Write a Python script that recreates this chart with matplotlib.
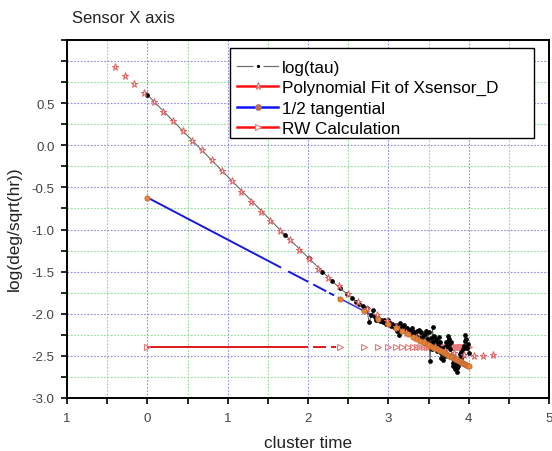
import numpy as np
import matplotlib
matplotlib.use("Agg")
import matplotlib.pyplot as plt
from matplotlib.lines import Line2D
from matplotlib.patches import Rectangle
from matplotlib.ticker import FixedLocator, FixedFormatter, MultipleLocator

plt.rcParams['font.family'] = ['Liberation Sans', 'DejaVu Sans']
plt.rcParams['lines.scale_dashes'] = False

# ---------------- data ----------------
title_text = "Sensor X axis"
x_label = "cluster time"
y_label = "log(deg/sqrt(hr))"
series_names = ["log(tau)", "Polynomial Fit of Xsensor_D", "1/2 tangential", "RW Calculation"]

x_ticks = [-1, 0, 1, 2, 3, 4, 5]
x_tick_labels = ["1", "0", "1", "2", "3", "4", "5"]
y_ticks = [-3.0, -2.5, -2.0, -1.5, -1.0, -0.5, 0.0, 0.5, 1.0]
y_tick_labels = ["-3.0", "-2.5", "-2.0", "-1.5", "-1.0", "-0.5", "0.0", "0.5", ""]

# log(tau) measured points
tau_x = [0.00, 1.71, 2.01, 2.18, 2.30, 2.40, 2.48, 2.55, 2.60, 2.64, 2.68, 2.71, 2.73,
         2.76, 2.79, 2.81, 2.83, 2.85, 2.87, 2.89, 2.91, 2.93, 2.95, 2.97, 2.99, 3.01,
         3.03, 3.05, 3.07, 3.09, 3.11, 3.13, 3.15, 3.17, 3.19, 3.21, 3.23, 3.25, 3.27,
         3.29, 3.30, 3.32, 3.34, 3.36, 3.38, 3.40, 3.41, 3.43, 3.44, 3.46, 3.47, 3.48,
         3.50, 3.51, 3.52, 3.53, 3.54, 3.55, 3.56, 3.57, 3.58, 3.59, 3.60, 3.61, 3.62,
         3.63, 3.64, 3.65, 3.66, 3.67, 3.68, 3.69, 3.70, 3.71, 3.72, 3.73, 3.74, 3.75,
         3.76, 3.77, 3.78, 3.79, 3.80, 3.81, 3.82, 3.83, 3.84, 3.85, 3.86, 3.87, 3.88,
         3.89, 3.90, 3.91, 3.92, 3.93, 3.94, 3.95, 3.96, 3.97, 3.98, 3.99, 4.00]
tau_y = [0.60, -1.06, -1.34, -1.50, -1.61, -1.70, -1.76, -1.81, -1.86, -1.88, -1.91, -1.95, -1.93,
         -2.10, -2.02, -1.96, -2.04, -2.07, -2.05, -2.09, -2.07, -2.10, -2.08, -2.12, -2.07, -2.10,
         -2.14, -2.12, -2.16, -2.13, -2.20, -2.25, -2.11, -2.16, -2.13, -2.20, -2.17, -2.23, -2.19,
         -2.24, -2.17, -2.22, -2.27, -2.21, -2.19, -2.29, -2.22, -2.26, -2.33, -2.24, -2.20, -2.30,
         -2.22, -2.35, -2.56, -2.29, -2.42, -2.16, -2.33, -2.26, -2.39, -2.30, -2.44, -2.34, -2.38,
         -2.28, -2.34, -2.47, -2.52, -2.41, -2.55, -2.45, -2.50, -2.40, -2.33, -2.38, -2.27, -2.36,
         -2.30, -2.42, -2.34, -2.50, -2.58, -2.62, -2.55, -2.66, -2.60, -2.69, -2.64, -2.62, -2.55,
         -2.48, -2.52, -2.45, -2.50, -2.42, -2.38, -2.32, -2.25, -2.30, -2.41, -2.36, -2.47]

# polynomial fit (stars)
fit_x = [-0.40, -0.28, -0.16, -0.04, 0.08, 0.20, 0.32, 0.44, 0.56, 0.68, 0.81, 0.93, 1.05,
         1.17, 1.29, 1.41, 1.53, 1.65, 1.77, 1.89, 2.01, 2.13, 2.25, 2.38, 2.50, 2.62,
         2.74, 2.86, 2.98, 3.10, 3.22, 3.34, 3.46, 3.58, 3.70, 3.82, 3.94, 4.06, 4.18, 4.30]
fit_y = [0.925, 0.825, 0.726, 0.619, 0.515, 0.401, 0.289, 0.175, 0.05, -0.06, -0.18, -0.30, -0.42,
         -0.55, -0.67, -0.79, -0.90, -1.02, -1.13, -1.24, -1.35, -1.47, -1.575, -1.675, -1.77, -1.865,
         -1.94, -2.02, -2.09, -2.16, -2.23, -2.29, -2.35, -2.40, -2.44, -2.47, -2.49, -2.50, -2.50, -2.49]

# cluster times (s) for tangential / RW series
cluster_tau = [1, 250, 500, 750, 1000, 1250, 1500, 1750, 2000, 2250, 2500, 2750, 3000, 3250,
               3500, 3750, 4000, 4250, 4500, 4750, 5000, 5250, 5500, 5750, 6000, 6250, 6500,
               6750, 7000, 7250, 7500, 7750, 8000, 8250, 8500, 8750, 9000, 9250, 9500, 9750, 10000]
tang_y = [-0.62, -1.819, -1.969, -2.058, -2.120, -2.169, -2.208, -2.242, -2.271, -2.296, -2.319,
          -2.340, -2.359, -2.376, -2.392, -2.407, -2.421, -2.434, -2.447, -2.459, -2.470, -2.480,
          -2.490, -2.500, -2.509, -2.518, -2.527, -2.535, -2.543, -2.550, -2.558, -2.565, -2.572,
          -2.579, -2.585, -2.591, -2.597, -2.603, -2.609, -2.615, -2.620]
rw_y = [-2.40] * len(cluster_tau)

# ---------------- figure ----------------
fig = plt.figure(figsize=(5.52, 4.52), dpi=100)
ax = fig.add_axes([0.1214, 0.1173, 0.8732, 0.792])

cl_x = np.log10(cluster_tau)

ax.set_xlim(-1, 5)
ax.set_ylim(-3.0, 1.25)

# grid
ax.xaxis.set_major_locator(FixedLocator(x_ticks))
ax.xaxis.set_major_formatter(FixedFormatter(x_tick_labels))
ax.xaxis.set_minor_locator(MultipleLocator(0.5))
ax.yaxis.set_major_locator(FixedLocator(y_ticks))
ax.yaxis.set_major_formatter(FixedFormatter(y_tick_labels))
ax.yaxis.set_minor_locator(MultipleLocator(0.25))
ax.grid(which='major', color='#8c8ce6', linestyle=(0, (1.2, 1.2)), linewidth=0.8)
ax.grid(which='minor', color='#8ede8e', linestyle=(0, (1.2, 1.2)), linewidth=0.8)
ax.set_axisbelow(True)

# RW calculation
ax.plot(cl_x[:2], rw_y[:2], color='#e01818', lw=1.4,
        dashes=(115.9, 3.6, 9.4, 3.6, 3.6, 60), zorder=3)
ax.plot(cl_x, rw_y, linestyle='none', marker='>', markersize=4.5,
        mfc='none', mec='#e87878', mew=0.8, zorder=4)

# 1/2 tangential
ax.plot(cl_x[:2], tang_y[:2], color='#1818e0', lw=1.4,
        dashes=(108.7, 5.8, 16.3, 4.0, 10.6, 2.4, 4.0, 3.2, 4.9, 72), zorder=3)
ax.plot(cl_x[1:], tang_y[1:], color='#3a2fd0', lw=1.1, zorder=3)

# log(tau)
ax.plot(tau_x, tau_y, color='#5a5a5a', lw=0.7, zorder=5)
ax.plot(tau_x, tau_y, linestyle='none', marker='o', markersize=2.4,
        color='black', mec='black', zorder=6)

# fit stars
ax.plot(fit_x, fit_y, linestyle='none', marker='*', markersize=5.2,
        mfc='#fbe4e4', mec='#e06060', mew=0.7, zorder=7)

# tangential markers
ax.plot(cl_x, tang_y, linestyle='none', marker='o', markersize=3.8,
        mfc='#e8832e', mec='#c06a3a', mew=0.5, zorder=8)

# axes styling
for s in ax.spines.values():
    s.set_linewidth(1.4)
    s.set_color('black')
ax.tick_params(which='both', direction='out', length=4, width=1.2, color='black',
               labelsize=9.5, labelcolor='#444444')
ax.tick_params(axis='x', pad=6)
ax.tick_params(axis='y', pad=5)

fig.text(0.130, 0.960, title_text, fontsize=12, ha='left', va='center', color='#222222')
fig.text(308 / 552, 1 - 444 / 452, x_label, fontsize=12.3, ha='center', va='center', color='#222222')
fig.text(14 / 552, 1 - 229 / 452, y_label, fontsize=12.5, ha='center', va='center',
         rotation=90, color='#222222')

handles = [
    Line2D([], [], color='#707070', lw=0.9, marker='o', markersize=4.8,
           mfc='black', mec='white', mew=2.4),
    Line2D([], [], color='#ff1010', lw=1.8, marker='*', markersize=5.2,
           mfc='#fbe4e4', mec='#e06060', mew=0.7),
    Line2D([], [], color='#1010ff', lw=1.8, marker='o', markersize=3.8,
           mfc='#b87050', mec='#b87050'),
    Line2D([], [], color='#ff1010', lw=1.8, marker='>', markersize=5,
           mfc='white', mec='#e87878', mew=0.8),
]
# legend frame (box drawn separately to match the reference spacing)
box = Rectangle((0.338, 0.726), 0.631, 0.252, transform=ax.transAxes,
                facecolor='white', edgecolor='black', linewidth=1.0, zorder=19)
ax.add_patch(box)
leg = ax.legend(handles, series_names, loc='upper left',
                bbox_to_anchor=(0.3386, 0.9645), borderaxespad=0,
                fontsize=12.3, handlelength=2.4, handletextpad=0.25,
                borderpad=0.4, labelspacing=0.32, frameon=False)
leg.set_zorder(20)

fig.savefig('out.png', dpi=100)
